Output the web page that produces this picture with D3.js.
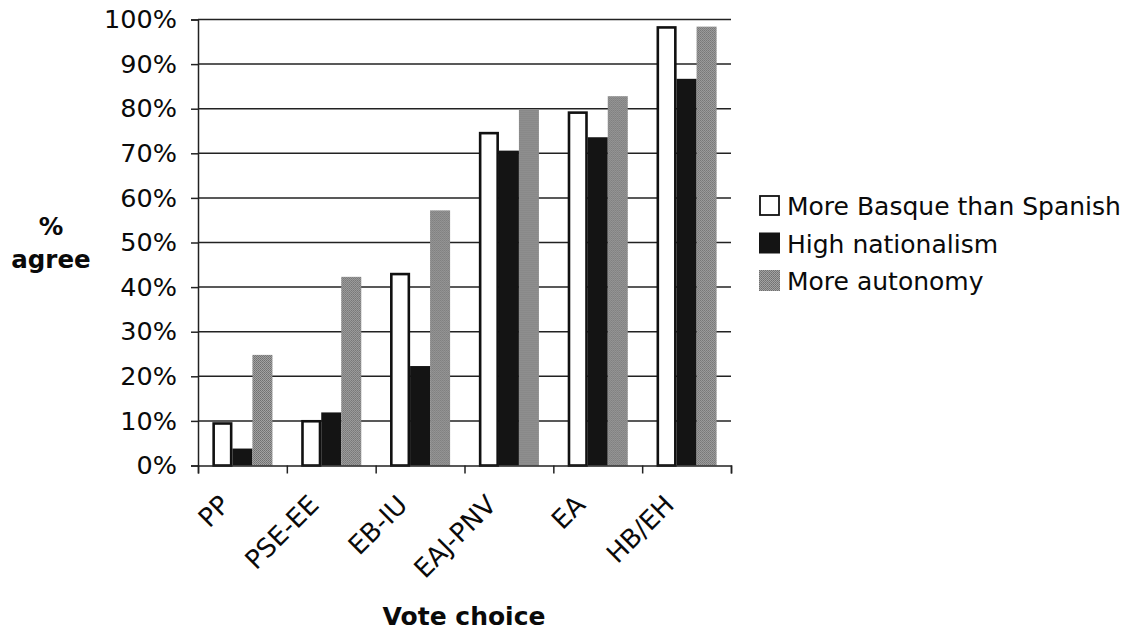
<!DOCTYPE html>
<html>
<head>
<meta charset="utf-8">
<script src="https://cdn.jsdelivr.net/npm/d3@7"></script>
<style>
  html, body { margin: 0; padding: 0; background: #fff; }
  svg { display: block; }
  text { font-family: "DejaVu Sans", Verdana, sans-serif; fill: #0a0a0a; }
</style>
</head>
<body>
<svg id="chart" width="1136" height="631"></svg>
<script>
const categories = ["PP", "PSE-EE", "EB-IU", "EAJ-PNV", "EA", "HB/EH"];
const seriesNames = ["More Basque than Spanish", "High nationalism", "More autonomy"];
const moreBasque = [9.7, 10.2, 43.2, 74.8, 79.4, 98.5];
const highNationalism = [3.8, 11.9, 22.3, 70.6, 73.6, 86.7];
const moreAutonomy = [24.8, 42.3, 57.2, 79.9, 82.8, 98.4];
const yTickValues = [0, 10, 20, 30, 40, 50, 60, 70, 80, 90, 100];
const yAxisTitle = ["%", "agree"];
const xAxisTitle = "Vote choice";

(function () {
const seriesValues = [moreBasque, highNationalism, moreAutonomy];

const svg = d3.select("#chart");
const defs = svg.append("defs");
const pat = defs.append("pattern")
  .attr("id", "grayDither").attr("patternUnits", "userSpaceOnUse")
  .attr("width", 2).attr("height", 2);
pat.append("rect").attr("width", 2).attr("height", 2).attr("fill", "#a2a2a2");
pat.append("rect").attr("x", 0).attr("y", 0).attr("width", 1).attr("height", 1).attr("fill", "#707070");
pat.append("rect").attr("x", 1).attr("y", 1).attr("width", 1).attr("height", 1).attr("fill", "#7a7a7a");

const plotLeft = 198, plotRight = 731, plotTop = 19.5, plotBottom = 465.5;

const x0 = d3.scaleBand().domain(categories).range([plotLeft, plotRight]).padding(0);
const x1 = d3.scaleBand().domain(seriesNames).range([0, x0.bandwidth()])
  .paddingInner(0).paddingOuter(0.72);
const y = d3.scaleLinear().domain([0, 100]).range([plotBottom, plotTop]);

const fills = ["#ffffff", "#141414", "url(#grayDither)"];
const strokes = ["#111", "none", "none"];

// gridlines
svg.append("g").selectAll("line").data(yTickValues.filter(d => d > 0)).join("line")
  .attr("x1", plotLeft).attr("x2", plotRight)
  .attr("y1", d => y(d)).attr("y2", d => y(d))
  .attr("stroke", "#222").attr("stroke-width", 1.5);

// bars
const groups = svg.append("g").selectAll("g").data(categories).join("g")
  .attr("transform", d => `translate(${x0(d)},0)`);
groups.selectAll("rect")
  .data((c, ci) => seriesNames.map((s, si) => ({ s, si, v: seriesValues[si][ci] })))
  .join("rect")
  .attr("x", d => x1(d.s) + (d.si === 0 ? 1.25 : 0))
  .attr("width", d => x1.bandwidth() - (d.si === 0 ? 2.5 : 0))
  .attr("y", d => y(d.v) + (d.si === 0 ? 1.25 : 0))
  .attr("height", d => y(0) - y(d.v) - (d.si === 0 ? 1.25 : 0))
  .attr("fill", d => fills[d.si])
  .attr("stroke", d => strokes[d.si])
  .attr("stroke-width", 2.6);

// y axis
const yAxis = svg.append("g").attr("transform", `translate(${plotLeft},0)`)
  .call(d3.axisLeft(y).tickValues(yTickValues).tickSize(7).tickPadding(14)
    .tickFormat(d => d + "%"));
yAxis.select(".domain").attr("stroke", "#222").attr("stroke-width", 1.5);
yAxis.selectAll(".tick line").attr("stroke", "#222").attr("stroke-width", 1.5);
yAxis.selectAll(".tick text").style("font-size", "25.5px").attr("fill", "#0a0a0a")
  .style("font-family", "'DejaVu Sans', Verdana, sans-serif");

// x axis (ticks at band edges)
const edges = d3.scaleLinear().domain([0, categories.length]).range([plotLeft, plotRight]);
const xAxis = svg.append("g").attr("transform", `translate(0,${plotBottom})`)
  .call(d3.axisBottom(edges).tickValues(d3.range(categories.length + 1)).tickSize(8).tickFormat(""));
xAxis.select(".domain").attr("stroke", "#222").attr("stroke-width", 1.5);
xAxis.selectAll(".tick line").attr("stroke", "#222").attr("stroke-width", 1.5);

// category labels rotated
svg.append("g").selectAll("text").data(categories).join("text")
  .attr("transform", d => `translate(${x0(d) + x0.bandwidth() / 2 - 11},${plotBottom + 41}) rotate(-45)`)
  .attr("text-anchor", "end")
  .style("font-size", "26px")
  .text(d => d);

// axis titles
svg.append("text").attr("x", 464).attr("y", 625).attr("text-anchor", "middle")
  .style("font-size", "25px").style("font-weight", "bold").text(xAxisTitle);
svg.append("g").selectAll("text").data(yAxisTitle).join("text")
  .attr("x", 51).attr("y", (d, i) => 235 + i * 33)
  .attr("text-anchor", "middle")
  .style("font-size", "24.5px").style("font-weight", "bold").text(d => d);

// legend
const legend = svg.append("g").selectAll("g").data(seriesNames).join("g")
  .attr("transform", (d, i) => `translate(759,${195 + i * 37.5})`);
legend.append("rect")
  .attr("x", (d, i) => i === 0 ? 1 : 0).attr("y", (d, i) => i === 0 ? 1 : 0)
  .attr("width", (d, i) => i === 0 ? 19 : 21).attr("height", (d, i) => i === 0 ? 19 : 21)
  .attr("fill", (d, i) => fills[i]).attr("stroke", (d, i) => strokes[i]).attr("stroke-width", 1.8);
legend.append("text").attr("x", 28).attr("y", 20)
  .style("font-size", "25px").text(d => d);
})();
</script>
</body>
</html>
